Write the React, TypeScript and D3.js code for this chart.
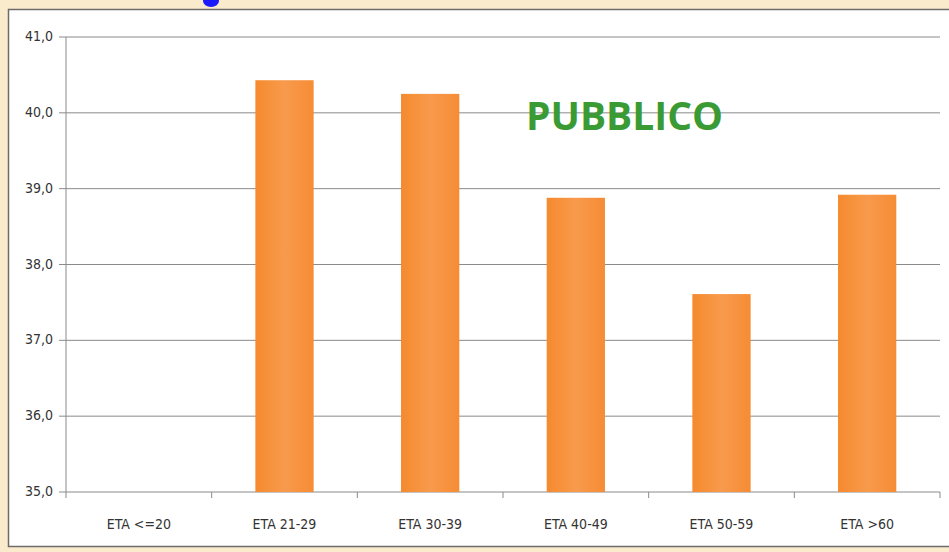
import * as d3 from "d3";

const categories = ["ETA <=20", "ETA 21-29", "ETA 30-39", "ETA 40-49", "ETA 50-59", "ETA >60"];
const values = [null, 40.43, 40.25, 38.88, 37.61, 38.92];
const yTicks = [35, 36, 37, 38, 39, 40, 41];

const W = 949;
const H = 552;
const m = { left: 66, right: 9, top: 37, bottom: 60 };

export default function App() {
  const x = d3
    .scaleBand<string>()
    .domain(categories)
    .range([m.left, W - m.right])
    .paddingInner(0.6)
    .paddingOuter(0.3);
  const y = d3.scaleLinear().domain([35, 41]).range([H - m.bottom, m.top]);
  // category boundaries for the small ticks under the axis
  const bounds = d3.range(categories.length + 1).map((i) => m.left + i * ((W - m.right - m.left) / categories.length));
  const font = "'DejaVu Sans Condensed', 'DejaVu Sans', sans-serif";

  return (
    <svg
      width={W}
      height={H}
      style={{ position: "absolute", left: 0, top: 0, display: "block" }}
    >
      <defs>
        <linearGradient id="bar" x1="0" x2="1" y1="0" y2="0">
          <stop offset="0" stopColor="#F58A2E" />
          <stop offset="0.5" stopColor="#F89A4C" />
          <stop offset="1" stopColor="#F68C35" />
        </linearGradient>
      </defs>
      <rect x={0} y={0} width={W} height={H} fill="#FBEBCD" />
      <rect x={8.5} y={9.5} width={W} height={537} fill="#fff" stroke="#6b6b6b" strokeWidth={1.5} />
      <ellipse cx={211} cy={1} rx={8} ry={6} fill="#1a1aff" />

      {/* grid + y labels */}
      {yTicks.map((t) => (
        <g key={t}>
          <line x1={m.left - 7} x2={W - m.right} y1={y(t)} y2={y(t)} stroke="#8a8a8a" strokeWidth={1} />
          <text
            x={m.left - 13}
            y={y(t)}
            textAnchor="end"
            dominantBaseline="middle"
            fontFamily={font}
            fontStretch="condensed"
            fontSize={14}
            fill="#333"
          >
            {t.toFixed(1).replace(".", ",")}
          </text>
        </g>
      ))}
      <line x1={m.left} x2={m.left} y1={y(41)} y2={y(35)} stroke="#8a8a8a" />
      {bounds.map((b, i) => (
        <line key={i} x1={b} x2={b} y1={y(35)} y2={y(35) + 6} stroke="#8a8a8a" />
      ))}

      {/* bars */}
      {categories.map((c, i) =>
        values[i] == null ? null : (
          <rect
            key={c}
            x={x(c)}
            y={y(values[i] as number)}
            width={x.bandwidth()}
            height={y(35) - y(values[i] as number)}
            fill="url(#bar)"
          />
        )
      )}

      {/* x labels */}
      {categories.map((c) => (
        <text
          key={c}
          x={(x(c) as number) + x.bandwidth() / 2}
          y={y(35) + 37}
          textAnchor="middle"
          fontFamily={font}
          fontStretch="condensed"
          fontSize={14}
          fill="#333"
        >
          {c}
        </text>
      ))}

      <text
        x={526}
        y={130}
        fontFamily="'Open Sans', Lato, sans-serif"
        fontWeight="bold"
        fontSize={40}
        fill="#3A9B34"
        textLength={197}
        lengthAdjust="spacingAndGlyphs"
      >
        PUBBLICO
      </text>
    </svg>
  );
}
